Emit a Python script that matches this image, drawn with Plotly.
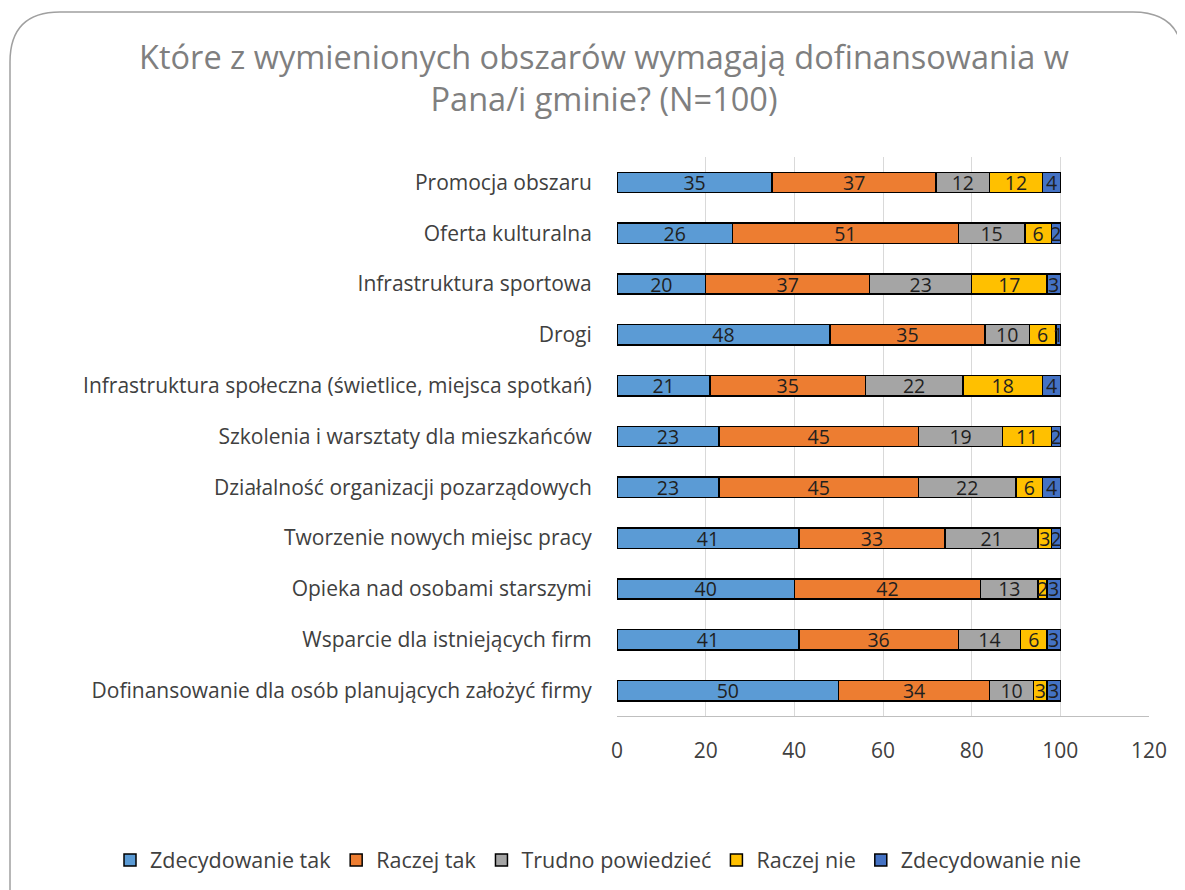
import plotly.graph_objects as go

categories = [
    "Promocja obszaru",
    "Oferta kulturalna",
    "Infrastruktura sportowa",
    "Drogi",
    "Infrastruktura społeczna (świetlice, miejsca spotkań)",
    "Szkolenia i warsztaty dla mieszkańców",
    "Działalność organizacji pozarządowych",
    "Tworzenie nowych miejsc pracy",
    "Opieka nad osobami starszymi",
    "Wsparcie dla istniejących firm",
    "Dofinansowanie dla osób planujących założyć firmy",
]
series_names = ["Zdecydowanie tak", "Raczej tak", "Trudno powiedzieć", "Raczej nie", "Zdecydowanie nie"]
zdecydowanie_tak = [35, 26, 20, 48, 21, 23, 23, 41, 40, 41, 50]
raczej_tak = [37, 51, 37, 35, 35, 45, 45, 33, 42, 36, 34]
trudno = [12, 15, 23, 10, 22, 19, 22, 21, 13, 14, 10]
raczej_nie = [12, 6, 17, 6, 18, 11, 6, 3, 2, 6, 3]
zdecydowanie_nie = [4, 2, 3, 1, 4, 2, 4, 2, 3, 3, 3]
x_ticks = [0, 20, 40, 60, 80, 100, 120]

colors = ["#5B9BD5", "#ED7D31", "#A5A5A5", "#FFC000", "#4472C4"]
values = [zdecydowanie_tak, raczej_tak, trudno, raczej_nie, zdecydowanie_nie]

FONT = "Open Sans"
OFF = 8  # page body margin offset

fig = go.Figure()
for name, vals, col in zip(series_names, values, colors):
    fig.add_trace(go.Bar(
        y=categories, x=vals, name=name, orientation="h",
        marker=dict(color=col, line=dict(color="#000000", width=1.5)),
        text=[str(v) for v in vals], textposition="inside", textangle=0,
        insidetextanchor="middle", constraintext="none",
        textfont=dict(family=FONT, size=19.5, color="#1F1F1F"),
        cliponaxis=False,
    ))

W, H = 1177, 882
pl, pr, pt, pb = 617 - OFF, W - (1149 - OFF), 157 - OFF, H - (716 - OFF)
pw, ph = W - pl - pr, H - pt - pb

def px(x):
    return (x - OFF - pl) / pw
def py(y):
    return 1 - (y - OFF - pt) / ph

fig.update_layout(
    barmode="stack",
    bargap=0.6,
    width=W, height=H,
    paper_bgcolor="white", plot_bgcolor="white",
    margin=dict(l=pl, r=pr, t=pt, b=pb, autoexpand=False),
    title=dict(
        text="Które z wymienionych obszarów wymagają dofinansowania w<br>Pana/i gminie? (N=100)",
        x=(604 - OFF) / W, xref="container", xanchor="center", y=1 - 61 / H, yref="container", yanchor="top",
        font=dict(family=FONT, size=32.5, color="#7F7F7F"),
    ),
    legend=dict(
        orientation="h", xref="paper", x=px(110), xanchor="left",
        yref="paper", y=py(860), yanchor="middle",
        font=dict(family=FONT, size=21.5, color="#404040"),
        traceorder="normal", itemwidth=30,
    ),
    font=dict(family=FONT, color="#404040"),
)

fig.update_xaxes(
    range=[0, 120], tickvals=x_ticks, showgrid=True, gridcolor="#D9D9D9", gridwidth=1,
    zeroline=False, showline=True, linecolor="#BFBFBF", linewidth=1,
    tickfont=dict(family=FONT, size=21, color="#404040"),
    ticks="outside", ticklen=16, tickcolor="rgba(0,0,0,0)",
)
fig.update_yaxes(
    autorange="reversed", showgrid=False, showline=False, ticks="outside", ticklen=20,
    tickcolor="rgba(0,0,0,0)",
    tickfont=dict(family=FONT, size=21, color="#404040"),
)

# Rounded border frame (paper coordinates computed from screen pixel positions)
border = (f"M {px(10)} {py(900)} L {px(10)} {py(62)} Q {px(10)} {py(12)} {px(60)} {py(12)} "
          f"L {px(1133)} {py(12)} Q {px(1183)} {py(12)} {px(1183)} {py(62)} L {px(1183)} {py(900)}")
fig.add_shape(type="path", xref="paper", yref="paper", layer="below", path=border,
              line=dict(color="#A0A0A0", width=1.5))

fig.write_html("out.html")
